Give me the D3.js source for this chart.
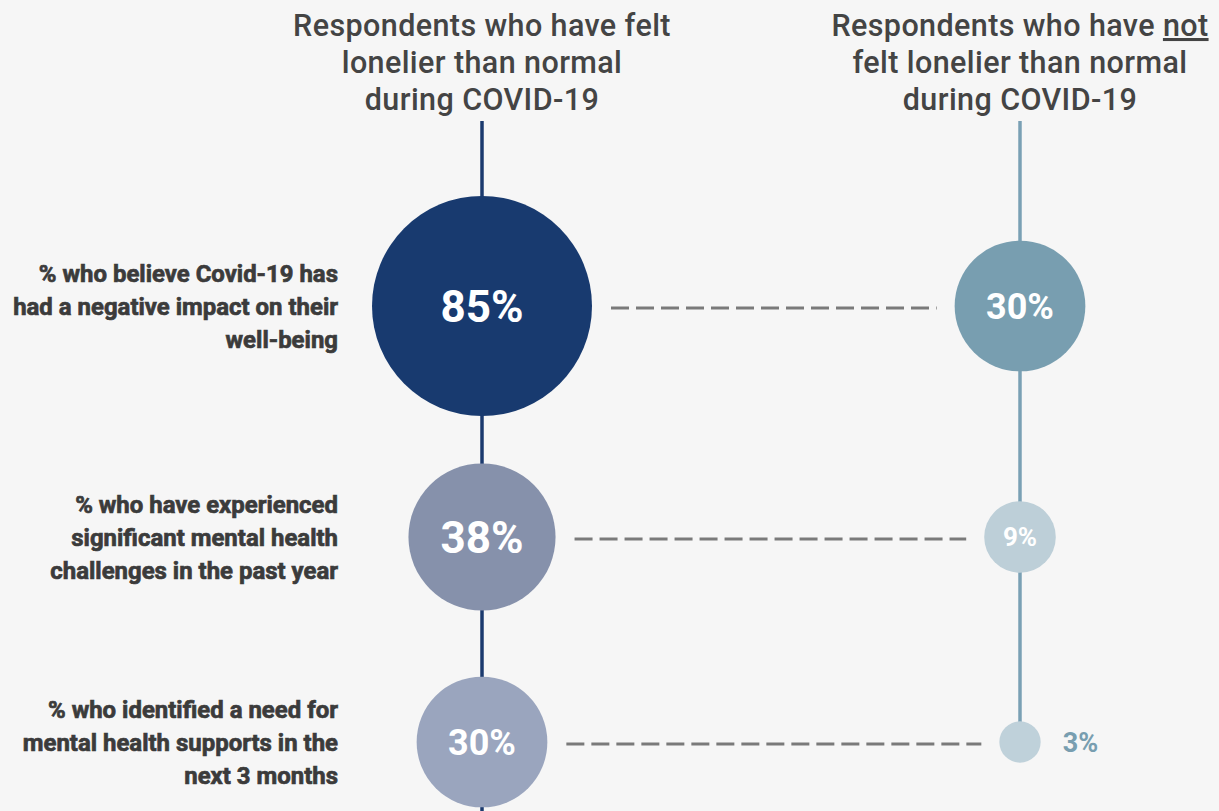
<!DOCTYPE html>
<html>
<head>
<meta charset="utf-8">
<script src="https://cdn.jsdelivr.net/npm/d3@7"></script>
<style>
  html, body { margin: 0; padding: 0; background: #f6f6f6; }
  svg { display: block; }
  text { font-family: Roboto, "Noto Sans", sans-serif; }
</style>
</head>
<body>
<svg id="chart" width="1219" height="811"></svg>
<script>
// Survey measures (rows) and the two respondent groups (columns)
const measures = [
  ["% who believe Covid-19 has", "had a negative impact on their", "well-being"],
  ["% who have experienced", "significant mental health", "challenges in the past year"],
  ["% who identified a need for", "mental health supports in the", "next 3 months"]
];
const measureKeys = ["impact", "challenges", "supports"];
const groups = ["felt", "notFelt"];
const groupTitles = [
  [["Respondents who have felt"], ["lonelier than normal"], ["during COVID-19"]],
  [["Respondents who have ", "not"], ["felt lonelier than normal"], ["during COVID-19"]]
];
// Percent of respondents in each group
const feltValues = [85, 38, 30];
const notFeltValues = [30, 9, 3];

const svg = d3.select("#chart");
const W = 1219, H = 811;

svg.append("rect").attr("width", W).attr("height", H).attr("fill", "#f6f6f6");

// Layout scales
const x = d3.scalePoint().domain(groups).range([482, 1020]);
const y = d3.scaleOrdinal().domain(measureKeys).range([306, 537, 742]);
const r = d3.scaleSqrt().domain([0, 85]).range([0, 110]);

const fillFelt = d3.scaleOrdinal().domain(measureKeys).range(["#183a6f", "#8691ab", "#9aa5be"]);
const fillNot = d3.scaleOrdinal().domain(measureKeys).range(["#789eb0", "#bdcfd8", "#bfd1da"]);
const lineColour = { felt: "#1b3a6e", notFelt: "#7aa0b4" };

const rows = measureKeys.map((k, i) => ({
  key: k,
  label: measures[i],
  felt: feltValues[i],
  notFelt: notFeltValues[i]
}));

// Column titles
groupTitles.forEach((lines, gi) => {
  const t = svg.append("text")
    .attr("x", x(groups[gi]))
    .attr("text-anchor", "middle")
    .attr("fill", "#444444")
    .attr("font-size", 30.5)
    .attr("font-weight", 500)
    .attr("letter-spacing", 0.4);
  lines.forEach((parts, li) => {
    parts.forEach((p, pi) => {
      const ts = t.append("tspan").text(p);
      if (pi === 0) ts.attr("x", x(groups[gi])).attr("y", 36 + li * 37);
      if (p === "not") ts.style("text-decoration", "underline");
    });
  });
});

// Vertical stems for each group
svg.append("line")
  .attr("x1", x("felt")).attr("x2", x("felt"))
  .attr("y1", 121).attr("y2", H)
  .attr("stroke", lineColour.felt).attr("stroke-width", 3.5);
svg.append("line")
  .attr("x1", x("notFelt")).attr("x2", x("notFelt"))
  .attr("y1", 121).attr("y2", y(measureKeys[measureKeys.length - 1]))
  .attr("stroke", lineColour.notFelt).attr("stroke-width", 3.5);

// Dashed connectors between the two circles of each row
svg.append("g").selectAll("line")
  .data(rows).join("line")
  .attr("x1", d => x("felt") + r(d.felt) + 19)
  .attr("x2", d => x("notFelt") - r(d.notFelt) - 18)
  .attr("y1", d => y(d.key) + 2)
  .attr("y2", d => y(d.key) + 2)
  .attr("stroke", "#7a7a7a")
  .attr("stroke-width", 2.8)
  .attr("stroke-dasharray", "18 7");

// Circles
svg.append("g").selectAll("circle")
  .data(rows).join("circle")
  .attr("cx", x("felt")).attr("cy", d => y(d.key))
  .attr("r", d => r(d.felt))
  .attr("fill", d => fillFelt(d.key));
svg.append("g").selectAll("circle")
  .data(rows).join("circle")
  .attr("cx", x("notFelt")).attr("cy", d => y(d.key))
  .attr("r", d => r(d.notFelt))
  .attr("fill", d => fillNot(d.key));

// Value labels
const valueSize = v => v >= 38 ? 44 : v >= 30 ? 36 : 26;
svg.append("g").selectAll("text")
  .data(rows).join("text")
  .attr("x", x("felt")).attr("y", d => y(d.key))
  .attr("dy", "0.36em")
  .attr("text-anchor", "middle")
  .attr("fill", "#ffffff")
  .attr("font-weight", 700)
  .attr("font-size", d => valueSize(d.felt))
  .text(d => d.felt + "%");
svg.append("g").selectAll("text")
  .data(rows).join("text")
  .attr("x", d => r(d.notFelt) < 25 ? x("notFelt") + r(d.notFelt) + 22 : x("notFelt"))
  .attr("y", d => y(d.key))
  .attr("dy", "0.36em")
  .attr("text-anchor", d => r(d.notFelt) < 25 ? "start" : "middle")
  .attr("fill", d => r(d.notFelt) < 25 ? "#789eb0" : "#ffffff")
  .attr("font-weight", 700)
  .attr("font-size", d => r(d.notFelt) < 25 ? 27 : valueSize(d.notFelt))
  .text(d => d.notFelt + "%");

// Row labels, set in a narrowed bold face, right-aligned against the first column
const labelRight = 338;
const labelG = svg.append("g");
const labelTexts = labelG.selectAll("text")
  .data(rows).join("text")
  .attr("text-anchor", "end")
  .attr("fill", "#3b3b3b")
  .attr("stroke", "#3b3b3b")
  .attr("stroke-width", 0.7)
  .attr("font-weight", 700)
  .attr("font-size", 24.5);
labelTexts.each(function(d) {
  const t = d3.select(this);
  d.label.forEach((line, li) => {
    t.append("tspan").attr("x", 0).attr("y", y(d.key) + 9 + (li - 1) * 33.3).text(line);
  });
});
// Narrow the labels so the widest line spans the label column
let widest = 0;
labelTexts.selectAll("tspan").each(function() {
  widest = Math.max(widest, this.getComputedTextLength());
});
const squeeze = widest > 0 ? 325 / widest : 1;
labelG.attr("transform", `translate(${labelRight},0) scale(${squeeze},1)`);
</script>
</body>
</html>
